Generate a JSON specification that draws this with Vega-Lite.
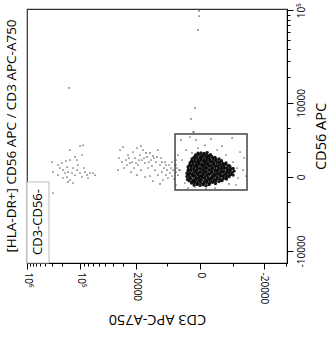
{
  "$schema": "https://vega.github.io/schema/vega-lite/v6.json",
  "width": 260,
  "height": 254,
  "autosize": {"type": "none"},
  "padding": {"left": 27, "top": 9, "right": 47, "bottom": 75},
  "config": {"view": {"stroke": "#333", "strokeWidth": 1.2}, "font": "Open Sans"},
  "title": {"text": "[HLA-DR+] CD56 APC  /  CD3 APC-A750", "orient": "left", "anchor": "middle", "fontSize": 13.5, "fontWeight": "normal", "offset": 4, "color": "#000"},
  "datasets": {
    "core": [
      {"x":795,"y":-452},{"x":385,"y":-417},{"x":0,"y":-477},{"x":-385,"y":-437},{"x":-795,"y":-492},{"x":-1245,"y":-427},
      {"x":1170,"y":-331},{"x":725,"y":-296},{"x":318,"y":-356},{"x":-62,"y":-316},{"x":-452,"y":-371},{"x":-868,"y":-306},{"x":-1320,"y":-341},{"x":-1810,"y":-291},{"x":-2340,"y":-361},
      {"x":1560,"y":-201},{"x":1090,"y":-256},{"x":655,"y":-191},{"x":252,"y":-226},{"x":-125,"y":-176},{"x":-518,"y":-246},{"x":-940,"y":-211},{"x":-1400,"y":-186},{"x":-1895,"y":-236},{"x":-2430,"y":-206},{"x":-3010,"y":-251},{"x":-3630,"y":-196},
      {"x":1810,"y":-130},{"x":1320,"y":-90},{"x":868,"y":-145},{"x":452,"y":-80},{"x":62,"y":-115},{"x":-318,"y":-65},{"x":-725,"y":-135},{"x":-1170,"y":-100},{"x":-1640,"y":-75},{"x":-2160,"y":-125},{"x":-2715,"y":-95},{"x":-3315,"y":-140},{"x":-3965,"y":-85},{"x":-4665,"y":-110},
      {"x":1895,"y":25},{"x":1400,"y":-10},{"x":940,"y":40},{"x":518,"y":-30},{"x":125,"y":5},{"x":-252,"y":30},{"x":-655,"y":-20},{"x":-1090,"y":10},{"x":-1560,"y":-35},{"x":-2070,"y":20},{"x":-2620,"y":-5},{"x":-3210,"y":0},{"x":-3850,"y":35},{"x":-4540,"y":-25},{"x":-5290,"y":15},
      {"x":1640,"y":105},{"x":1170,"y":140},{"x":725,"y":80},{"x":318,"y":120},{"x":-62,"y":65},{"x":-452,"y":130},{"x":-868,"y":95},{"x":-1320,"y":145},{"x":-1810,"y":75},{"x":-2340,"y":110},{"x":-2910,"y":135},{"x":-3525,"y":85},{"x":-4190,"y":115},{"x":-4915,"y":70},{"x":-5690,"y":125},{"x":-6410,"y":100},
      {"x":1895,"y":196},{"x":1400,"y":226},{"x":940,"y":181},{"x":518,"y":236},{"x":125,"y":211},{"x":-252,"y":216},{"x":-655,"y":251},{"x":-1090,"y":191},{"x":-1560,"y":231},{"x":-2070,"y":176},{"x":-2620,"y":241},{"x":-3210,"y":206},{"x":-3850,"y":256},{"x":-4540,"y":186},{"x":-5290,"y":221},{"x":-6120,"y":246},
      {"x":1725,"y":331},{"x":1245,"y":366},{"x":795,"y":306},{"x":385,"y":346},{"x":0,"y":291},{"x":-385,"y":356},{"x":-795,"y":321},{"x":-1245,"y":371},{"x":-1725,"y":301},{"x":-2250,"y":336},{"x":-2810,"y":361},{"x":-3420,"y":311},{"x":-4080,"y":341},{"x":-4790,"y":296},{"x":-5550,"y":351},{"x":-6700,"y":326},
      {"x":1640,"y":432},{"x":1170,"y":462},{"x":725,"y":417},{"x":318,"y":472},{"x":-62,"y":447},{"x":-452,"y":452},{"x":-868,"y":487},{"x":-1320,"y":427},{"x":-1810,"y":467},{"x":-2340,"y":412},{"x":-2910,"y":477},{"x":-3525,"y":442},{"x":-4190,"y":492},{"x":-4915,"y":422},{"x":-5690,"y":457},{"x":-6410,"y":482},
      {"x":1725,"y":578},{"x":1245,"y":613},{"x":795,"y":553},{"x":385,"y":593},{"x":0,"y":538},{"x":-385,"y":603},{"x":-795,"y":568},{"x":-1245,"y":618},{"x":-1725,"y":548},{"x":-2250,"y":583},{"x":-2810,"y":608},{"x":-3420,"y":558},{"x":-4080,"y":588},{"x":-4790,"y":543},{"x":-5550,"y":598},
      {"x":1480,"y":691},{"x":1015,"y":721},{"x":585,"y":676},{"x":188,"y":731},{"x":-188,"y":706},{"x":-585,"y":711},{"x":-1015,"y":746},{"x":-1480,"y":686},{"x":-1980,"y":726},{"x":-2525,"y":671},{"x":-3110,"y":736},{"x":-3740,"y":701},{"x":-4420,"y":751},{"x":-5165,"y":681},
      {"x":1400,"y":848},{"x":940,"y":883},{"x":518,"y":823},{"x":125,"y":863},{"x":-252,"y":808},{"x":-655,"y":873},{"x":-1090,"y":838},{"x":-1560,"y":888},{"x":-2070,"y":818},{"x":-2620,"y":853},{"x":-3210,"y":878},{"x":-3850,"y":828},{"x":-4540,"y":858},
      {"x":1170,"y":975},{"x":725,"y":1005},{"x":318,"y":960},{"x":-62,"y":1015},{"x":-452,"y":990},{"x":-868,"y":995},{"x":-1320,"y":1030},{"x":-1810,"y":970},{"x":-2340,"y":1010},{"x":-2910,"y":955},{"x":-3525,"y":1020},
      {"x":1090,"y":1148},{"x":655,"y":1183},{"x":252,"y":1123},{"x":-125,"y":1163},{"x":-518,"y":1108},{"x":-940,"y":1173},{"x":-1400,"y":1138},{"x":-1895,"y":1188},{"x":-2430,"y":1118},{"x":-3010,"y":1153},
      {"x":795,"y":1287},{"x":385,"y":1317},{"x":0,"y":1272},{"x":-385,"y":1327},{"x":-795,"y":1302},{"x":-1245,"y":1307},{"x":-1725,"y":1342},{"x":-2250,"y":1282},
      {"x":585,"y":1472},{"x":188,"y":1507},{"x":-188,"y":1447},{"x":-585,"y":1487},{"x":-1015,"y":1432},{"x":-1480,"y":1497},
      {"x":252,"y":1630},{"x":-125,"y":1660},{"x":-518,"y":1615},{"x":-940,"y":1670}
    ],
    "scatter": [
      {"x":3010,"y":3000},{"x":1400,"y":3369},{"x":252,"y":2120},{"x":-1560,"y":3120},{"x":-3630,"y":2320},{"x":-6120,"y":3250},{"x":-8590,"y":1737},{"x":-10050,"y":1225},{"x":-9670,"y":390},{"x":-7930,"y":-52},{"x":-5290,"y":-390},{"x":-2250,"y":-645},{"x":655,"y":-578},{"x":2250,"y":-331},{"x":3210,"y":390},{"x":2810,"y":1070},{"x":3630,"y":1472},{"x":2070,"y":1924},{"x":-655,"y":2400},{"x":-2620,"y":1924},{"x":-4540,"y":1472},{"x":-6410,"y":921},{"x":-7620,"y":515},{"x":-5550,"y":711},{"x":4080,"y":711},{"x":-10800,"y":52},{"x":-1090,"y":1737},{"x":1090,"y":1650},{"x":4080,"y":-452},{"x":1725,"y":-645},{"x":-795,"y":-700},{"x":-7300,"y":-452},
      {"x":655,"y":8680},{"x":1245,"y":6250},{"x":940,"y":4052},{"x":795,"y":4052},{"x":518,"y":3000},{"x":123,"y":98300},{"x":123,"y":87300},{"x":245,"y":62800},
      {"x":134000,"y":15000},{"x":205600,"y":-995},
      {"x":32660,"y":1924},{"x":29880,"y":2219},{"x":27290,"y":1070},{"x":25690,"y":1472},{"x":24160,"y":848},{"x":22010,"y":1737},{"x":20660,"y":1225},{"x":19390,"y":2120},{"x":18760,"y":711},{"x":17580,"y":1472},{"x":16530,"y":1070},{"x":15960,"y":1924},{"x":14890,"y":848},{"x":13900,"y":1307},{"x":13440,"y":515},{"x":12510,"y":1650},{"x":12060,"y":1070},{"x":11650,"y":645},{"x":10800,"y":1225},{"x":10420,"y":390},{"x":10050,"y":921},{"x":9300,"y":1924},{"x":9300,"y":105},{"x":8590,"y":711},{"x":8260,"y":1225},{"x":7930,"y":272},{"x":7620,"y":-160},{"x":7300,"y":515},{"x":6975,"y":921},{"x":6700,"y":105},{"x":6410,"y":390},{"x":6120,"y":-52},{"x":5830,"y":711},{"x":5550,"y":216},{"x":5290,"y":515},{"x":5040,"y":52},{"x":4790,"y":390},{"x":4540,"y":-105},{"x":4300,"y":711},{"x":4080,"y":272},{"x":3850,"y":515},{"x":3630,"y":105},{"x":3420,"y":390},
      {"x":34600,"y":390},{"x":28990,"y":515},{"x":23430,"y":272},{"x":19390,"y":105},{"x":14890,"y":0},{"x":12510,"y":52},{"x":11230,"y":-216},{"x":8590,"y":-390},{"x":26460,"y":711},{"x":22700,"y":921},{"x":17050,"y":390},{"x":14390,"y":1650},{"x":33620,"y":1225},{"x":30800,"y":921},{"x":21340,"y":515},{"x":18150,"y":1070},{"x":15400,"y":1225},{"x":12980,"y":921},{"x":9670,"y":1307},{"x":7930,"y":921},{"x":6700,"y":711},{"x":5040,"y":921},{"x":4080,"y":1070},{"x":24940,"y":1225},{"x":20020,"y":848},{"x":17050,"y":2320},{"x":11230,"y":1390},
      {"x":210900,"y":921},{"x":205600,"y":272},{"x":180400,"y":711},{"x":170900,"y":515},{"x":162300,"y":848},{"x":158000,"y":390},{"x":149500,"y":216},{"x":141900,"y":578},{"x":141900,"y":0},{"x":138200,"y":272},{"x":131000,"y":1070},{"x":131000,"y":-160},{"x":124100,"y":216},{"x":120900,"y":515},{"x":114600,"y":105},{"x":108600,"y":390},{"x":105700,"y":711},{"x":100150,"y":216},{"x":94800,"y":1472},{"x":94800,"y":0},{"x":92300,"y":2400},{"x":100150,"y":2320},{"x":89800,"y":515},{"x":87450,"y":272},{"x":82800,"y":105},{"x":80600,"y":-52},{"x":76290,"y":216},{"x":70300,"y":216},{"x":66500,"y":105},{"x":120900,"y":-331},{"x":138200,"y":-272},{"x":131000,"y":1924},{"x":114600,"y":1307},{"x":108600,"y":1070},{"x":158000,"y":-52},{"x":180400,"y":105},{"x":145700,"y":995}
    ],
    "gate": [{"x":4300,"x2":-11230,"y":3770,"y2":-780}],
    "box": [{"x":406500,"x2":228500,"y":-13850,"y2":-272}],
    "label": [{"x":304700,"y":-4052,"text":"CD3-CD56-"}]
  },
  "layer": [
    {
      "data": {"name": "scatter"},
      "mark": {"type": "point", "filled": true, "size": 3, "color": "#111", "opacity": 0.6},
      "encoding": {
        "x": {"field": "x", "type": "quantitative",
          "scale": {"type": "symlog", "constant": 4760, "domain": [-40040, 406500], "reverse": true, "nice": false, "zero": false},
          "axis": {"title": "CD3 APC-A750", "titleAngle": 180, "titleBaseline": "bottom", "titleFontSize": 14.5, "titleFontWeight": "normal", "titlePadding": 8, "titleColor": "#000",
            "values": [406000, 375600, 347500, 321300, 289400, 253700, 210900, 162300, 100000, 90000, 80000, 70000, 60000, 50000, 40000, 30000, 20000, 6400, 0, -6400, -20000, -39000],
            "tickCount": 200,
            "labelExpr": "datum.value == 406000 ? '10⁶' : datum.value == 100000 ? '10⁵' : datum.value == 20000 ? '20000' : datum.value == 0 ? '0' : datum.value == -20000 ? '-20000' : ''",
            "labelAngle": 90, "labelAlign": "left", "labelBaseline": "middle", "labelFontSize": 10, "labelColor": "#000", "labelPadding": 3, "labelOverlap": false, "labelFlush": false,
            "tickSize": {"condition": {"test": "indexof([406000, 100000, 20000, 0, -20000], datum.value) >= 0", "value": 6}, "value": 3},
            "tickColor": "#000", "domainColor": "#000", "grid": false}},
        "y": {"field": "y", "type": "quantitative",
          "scale": {"type": "symlog", "constant": 2250, "domain": [-13850, 102900], "nice": false, "zero": false},
          "axis": {"orient": "right", "title": "CD56 APC", "titleAngle": 270, "titleBaseline": "top", "titleFontSize": 14.5, "titleFontWeight": "normal", "titlePadding": 8, "titleColor": "#000",
            "values": [100000, 90000, 80000, 70000, 60000, 50000, 40000, 30000, 20000, 10000, 4700, 1740, 0, -1740, -4800, -10000],
            "tickCount": 200,
            "labelExpr": "datum.value == 100000 ? '10⁵' : datum.value == 10000 ? '10000' : datum.value == 0 ? '0' : datum.value == -10000 ? '-10000' : ''",
            "labelAngle": 270, "labelAlign": "center", "labelBaseline": "top", "labelFontSize": 10, "labelColor": "#000", "labelPadding": 3, "labelOverlap": false, "labelFlush": false,
            "tickSize": {"condition": {"test": "indexof([100000, 10000, 0, -10000], datum.value) >= 0", "value": 6}, "value": 3},
            "tickColor": "#000", "domainColor": "#000", "grid": false}}
      }
    },
    {
      "data": {"name": "core"},
      "mark": {"type": "point", "filled": true, "size": 11, "color": "#000", "opacity": 0.9},
      "encoding": {
        "x": {"field": "x", "type": "quantitative"},
        "y": {"field": "y", "type": "quantitative"}
      }
    },
    {
      "data": {"name": "gate"},
      "mark": {"type": "rect", "fill": null, "fillOpacity": 0, "stroke": "#444", "strokeWidth": 1.5},
      "encoding": {
        "x": {"field": "x", "type": "quantitative"},
        "x2": {"field": "x2"},
        "y": {"field": "y", "type": "quantitative"},
        "y2": {"field": "y2"}
      }
    },
    {
      "data": {"name": "box"},
      "mark": {"type": "rect", "fill": "#fff", "stroke": "#bbb", "strokeWidth": 1},
      "encoding": {
        "x": {"field": "x", "type": "quantitative"},
        "x2": {"field": "x2"},
        "y": {"field": "y", "type": "quantitative"},
        "y2": {"field": "y2"}
      }
    },
    {
      "data": {"name": "label"},
      "mark": {"type": "text", "angle": 270, "fontSize": 13, "align": "center", "baseline": "middle", "color": "#000"},
      "encoding": {
        "x": {"field": "x", "type": "quantitative"},
        "y": {"field": "y", "type": "quantitative"},
        "text": {"field": "text"}
      }
    }
  ]
}
